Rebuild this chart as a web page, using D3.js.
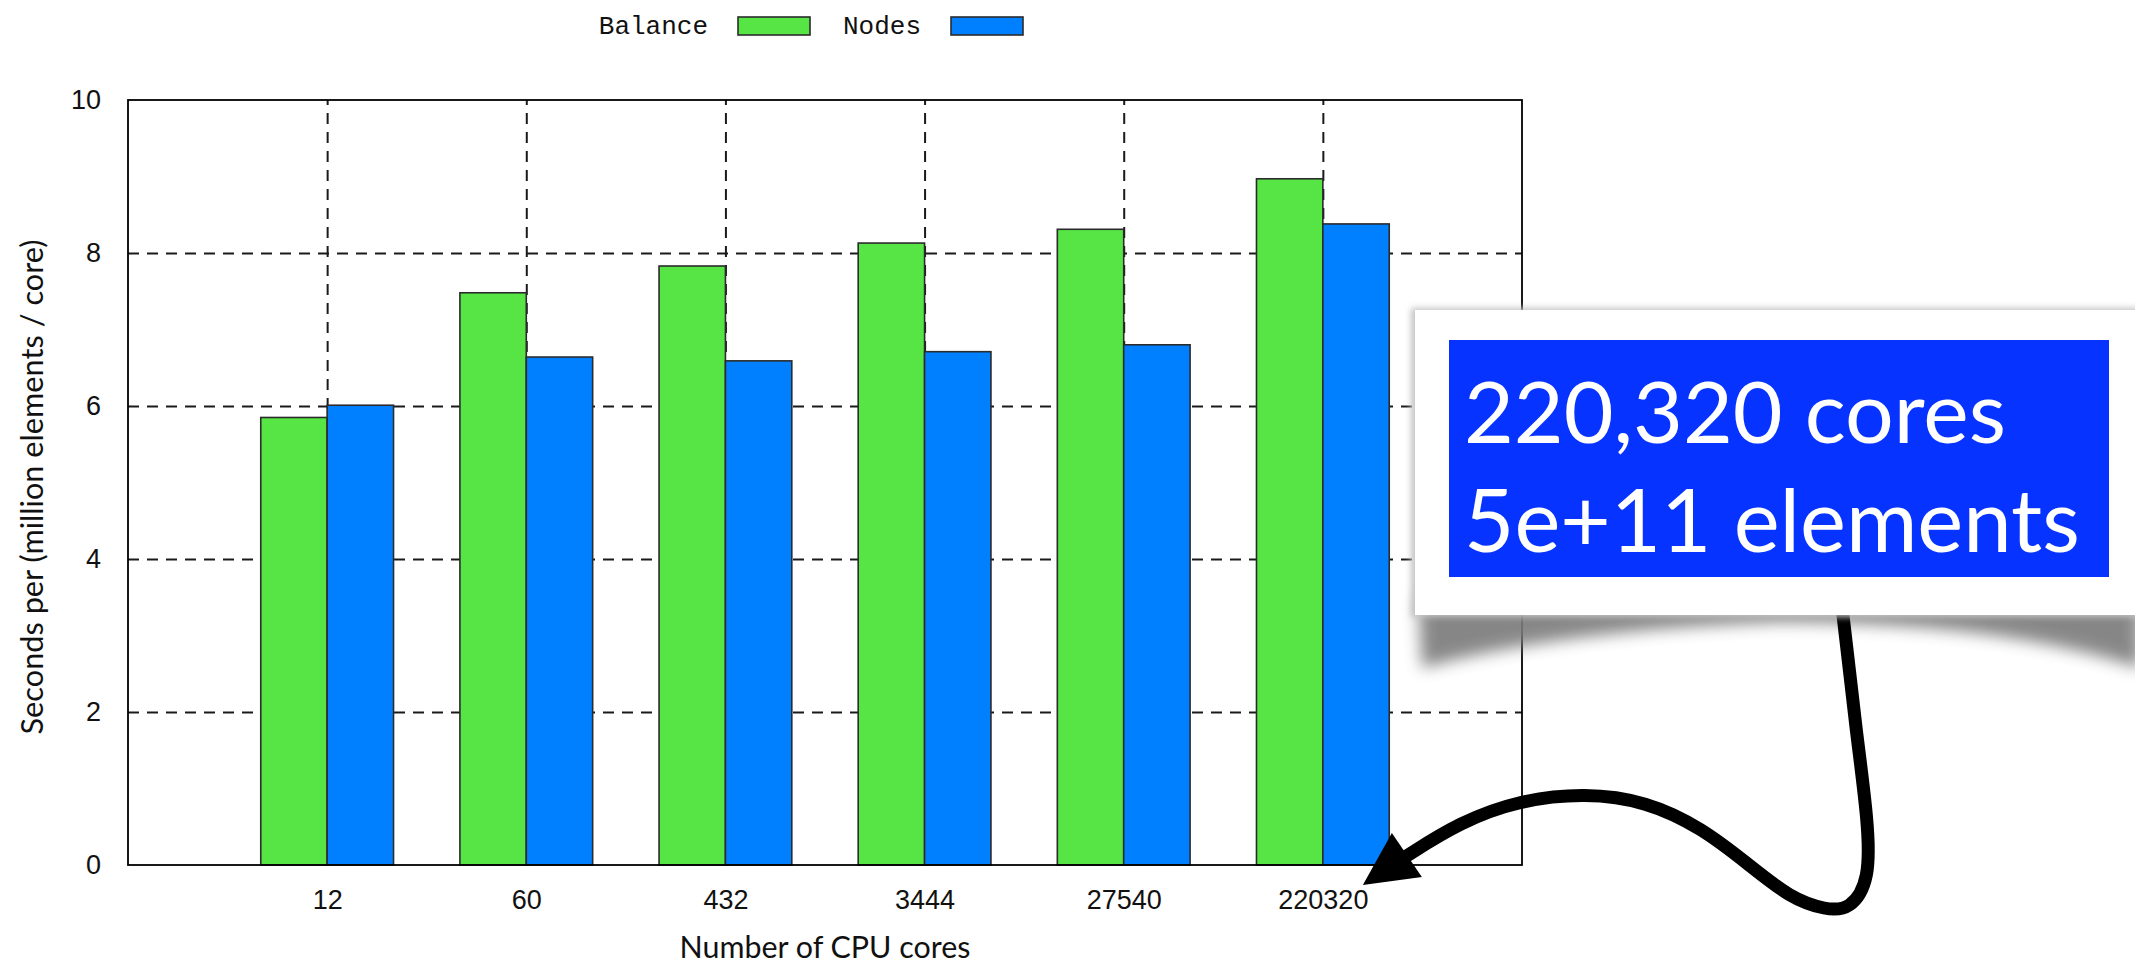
<!DOCTYPE html>
<html>
<head>
<meta charset="utf-8">
<script src="https://cdn.jsdelivr.net/npm/d3@7"></script>
<style>
  html, body { margin: 0; padding: 0; background: #ffffff; }
  svg { display: block; }
</style>
</head>
<body>
<svg id="chart" width="2135" height="966"></svg>
<script>
// Per-core run time for the two partitioning strategies
const categories = ["12", "60", "432", "3444", "27540", "220320"];
const balanceValues = [5.85, 7.48, 7.83, 8.13, 8.31, 8.97];
const nodesValues = [6.01, 6.64, 6.59, 6.71, 6.80, 8.38];
const seriesNames = ["Balance", "Nodes"];
const seriesColors = ["#57e545", "#0080ff"];
const yTickValues = [0, 2, 4, 6, 8, 10];
const yGridValues = [2, 4, 6, 8];
const calloutLines = ["220,320 cores", "5e+11 elements"];

const svg = d3.select("#chart");
const W = 2135, H = 966;
const plot = { left: 128, right: 1522, top: 100, bottom: 865 };

const x = d3.scaleLinear().domain([-1, categories.length]).range([plot.left, plot.right]);
const sub = d3.scaleBand().domain(seriesNames).range([-1 / 3, 1 / 3]);
const y = d3.scaleLinear().domain([0, 10]).range([plot.bottom, plot.top]);
const color = d3.scaleOrdinal().domain(seriesNames).range(seriesColors);

const rows = categories.map((c, i) => ({ i, cat: c, Balance: balanceValues[i], Nodes: nodesValues[i] }));

svg.append("rect").attr("width", W).attr("height", H).attr("fill", "#fff");

const defs = svg.append("defs");
defs.append("filter").attr("id", "soft").attr("x", "-20%").attr("y", "-50%").attr("width", "140%").attr("height", "200%")
  .append("feGaussianBlur").attr("stdDeviation", 8);
defs.append("filter").attr("id", "edge").attr("x", "-5%").attr("y", "-5%").attr("width", "110%").attr("height", "110%")
  .append("feGaussianBlur").attr("stdDeviation", 3);

// Grid lines (dashed), drawn under the bars
const grid = svg.append("g").attr("class", "grid");
grid.append("g")
  .attr("transform", `translate(${plot.left},0)`)
  .call(d3.axisLeft(y).tickValues(yGridValues).tickSize(-(plot.right - plot.left)).tickFormat(""))
  .call(g => g.select(".domain").remove());
grid.append("g")
  .attr("transform", `translate(0,${plot.bottom})`)
  .call(d3.axisBottom(x).tickValues(d3.range(categories.length)).tickSize(-(plot.bottom - plot.top)).tickFormat(""))
  .call(g => g.select(".domain").remove());
grid.selectAll("line")
  .attr("stroke", "#1a1a1a").attr("stroke-width", 2).attr("stroke-dasharray", "11,8");

// Bars
const groups = svg.append("g").selectAll("g").data(rows).join("g");
groups.selectAll("rect")
  .data(d => seriesNames.map(s => ({ s, v: d[s], i: d.i })))
  .join("rect")
  .attr("x", d => x(d.i + sub(d.s)))
  .attr("width", x(sub.bandwidth()) - x(0))
  .attr("y", d => y(d.v))
  .attr("height", d => y(0) - y(d.v))
  .attr("fill", d => color(d.s))
  .attr("stroke", "#2b2b2b")
  .attr("stroke-width", 1.6);

// Frame
svg.append("rect")
  .attr("x", plot.left).attr("y", plot.top)
  .attr("width", plot.right - plot.left).attr("height", plot.bottom - plot.top)
  .attr("fill", "none").attr("stroke", "#000").attr("stroke-width", 1.8);

// Axis tick labels
const tickFont = "'Liberation Sans', Arial, sans-serif";
svg.append("g")
  .attr("transform", `translate(${plot.left},0)`)
  .call(d3.axisLeft(y).tickValues(yTickValues).tickSize(0).tickPadding(27).tickFormat(d3.format("d")))
  .call(g => g.select(".domain").remove())
  .call(g => g.selectAll("text").attr("font-family", tickFont).attr("font-size", 27).attr("fill", "#111"));
svg.append("g")
  .attr("transform", `translate(0,${plot.bottom})`)
  .call(d3.axisBottom(x).tickValues(d3.range(categories.length)).tickSize(0).tickPadding(25).tickFormat(i => categories[i]))
  .call(g => g.select(".domain").remove())
  .call(g => g.selectAll("text").attr("font-family", tickFont).attr("font-size", 27).attr("fill", "#111"));

// Size a text node so that it spans the given width
function fitWidth(sel, target, start) {
  sel.attr("font-size", start);
  const len = sel.node().getComputedTextLength();
  sel.attr("font-size", start * target / len);
  return sel;
}

const labelFont = "Lato, 'Open Sans', sans-serif";
fitWidth(svg.append("text")
  .attr("transform", `translate(31,487) rotate(-90)`)
  .attr("text-anchor", "middle").attr("dominant-baseline", "central")
  .attr("font-family", labelFont).attr("fill", "#111")
  .text("Seconds per (million elements / core)"), 495, 27);
fitWidth(svg.append("text")
  .attr("x", (plot.left + plot.right) / 2).attr("y", 958)
  .attr("text-anchor", "middle")
  .attr("font-family", labelFont).attr("fill", "#111")
  .text("Number of CPU cores"), 291, 27);

// Legend
const legend = svg.append("g").attr("font-family", "'Liberation Mono', 'Courier New', monospace").attr("font-size", 26);
seriesNames.forEach((s, k) => {
  const ox = 708 + k * 213;
  legend.append("text").attr("x", ox).attr("y", 34).attr("text-anchor", "end").attr("fill", "#111").text(s);
  legend.append("rect").attr("x", ox + 30).attr("y", 17).attr("width", 72).attr("height", 18)
    .attr("fill", color(s)).attr("stroke", "#2b2b2b").attr("stroke-width", 1.6);
});

// Callout note with curled shadow and arrow to the largest run
const note = svg.append("g");
note.append("path")
  .attr("d", "M1418,598 L1422,668 Q1560,630 1780,622 Q2000,622 2140,668 L2140,598 Z")
  .attr("fill", "#7a7a7a").attr("opacity", 0.9).attr("filter", "url(#soft)");

const tip = [x(5) + 40, y(0) + 20];
const arrowPts = [
  [1840, 590], [1846, 640], [1856, 730], [1868, 820], [1870, 880], [1850, 910], [1826, 910],
  [1790, 898], [1748, 864], [1702, 828], [1646, 801], [1585, 793], [1520, 800],
  [1460, 822], [1405, 857]
];
note.append("path")
  .attr("d", d3.line().curve(d3.curveBasis)(arrowPts))
  .attr("fill", "none").attr("stroke", "#000").attr("stroke-width", 13)
  .attr("stroke-linecap", "round").attr("stroke-linejoin", "round");
note.append("path")
  .attr("d", d3.line()([tip, [tip[0] + 29, tip[1] - 52], [tip[0] + 59, tip[1] - 8]]) + "Z")
  .attr("fill", "#000");

note.append("rect").attr("x", 1411).attr("y", 308).attr("width", 760).attr("height", 309)
  .attr("fill", "#c4c4c4").attr("filter", "url(#edge)");
note.append("rect").attr("x", 1415).attr("y", 310).attr("width", 760).attr("height", 305)
  .attr("fill", "#fff");
note.append("rect").attr("x", 1449).attr("y", 340).attr("width", 660).attr("height", 237)
  .attr("fill", "#0633ff");
const noteText = note.append("g").attr("font-family", labelFont).attr("fill", "#fff");
fitWidth(noteText.append("text").attr("x", 1464).attr("y", 443).text(calloutLines[0]), 542, 90);
fitWidth(noteText.append("text").attr("x", 1464).attr("y", 552).text(calloutLines[1]), 616, 90);
</script>
</body>
</html>
